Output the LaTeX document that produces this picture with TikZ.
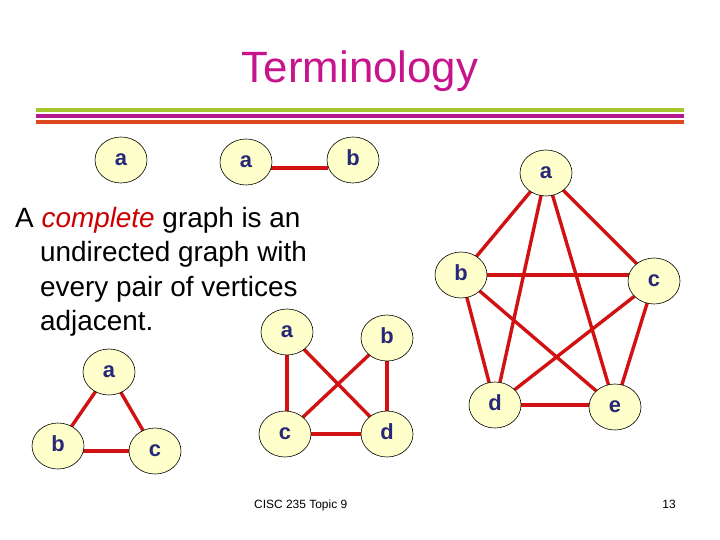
\documentclass[tikz,border=0pt]{standalone}
\usepackage{fontspec}
\setmainfont{Liberation Sans}
\usetikzlibrary{shapes.geometric,backgrounds}
\definecolor{titlemag}{RGB}{200,20,140}
\definecolor{barGreen}{RGB}{166,198,46}
\definecolor{barMag}{RGB}{180,24,140}
\definecolor{barRed}{RGB}{222,72,32}
\definecolor{edgered}{RGB}{210,18,18}
\definecolor{nodefill}{RGB}{255,255,204}
\definecolor{letterblue}{RGB}{40,40,120}
\definecolor{italred}{RGB}{204,0,0}
\tikzset{
  vert/.style={ellipse, draw=black, line width=0.6pt, fill=nodefill,
    minimum width=52bp, minimum height=46bp, inner sep=0pt,
    text=letterblue, font=\fontsize{22}{22}\selectfont\bfseries,
    text height=12pt, text depth=0pt},
  edge/.style={draw=edgered, line width=3.4bp, shorten <=-1.5pt, shorten >=-1.5pt},
  bar/.style={line width=4bp},
  body/.style={anchor=base west, inner sep=0pt, font=\fontsize{28}{33}\selectfont},
}
\begin{document}
\begin{tikzpicture}[x=1bp,y=-1bp]
\useasboundingbox (0,0) rectangle (720,540);
% title
\node[anchor=base, inner sep=0pt, text=titlemag, font=\fontsize{44}{44}\selectfont] (title) at (360,83) {Terminology};
\draw[bar, barGreen] (36,110.5) -- (684,110.5);
\draw[bar, barMag] (36,116.5) -- (684,116.5);
\draw[bar, barRed] (36,122.5) -- (684,122.5);
% body text
\node[body] (t1) at (15,228) {A \textcolor{italred}{\itshape complete} graph is an};
\node[body] (t2) at (40,262) {undirected graph with};
\node[body] (t3) at (40,296) {every pair of vertices};
\node[body] (t4) at (40,330) {adjacent.};
% single vertex
\node[vert] (s) at (121,160) {a};
% K2
\node[vert] (ka) at (246,162) {a};
\node[vert] (kb) at (353,160) {b};
% K3
\node[vert] (ta) at (109,372) {a};
\node[vert] (tb) at (58,446) {b};
\node[vert] (tc) at (155,451) {c};
% K4
\node[vert] (qa) at (287,332) {a};
\node[vert] (qb) at (387,338) {b};
\node[vert] (qc) at (285,434) {c};
\node[vert] (qd) at (387,434) {d};
% K5
\node[vert] (pa) at (546,173) {a};
\node[vert] (pb) at (461,275) {b};
\node[vert] (pc) at (654,281) {c};
\node[vert] (pd) at (495,405) {d};
\node[vert] (pe) at (615,407) {e};
\begin{scope}[on background layer]
\fill[white] (0,0) rectangle (720,540);
\draw[edge] ([yshift=-6bp]ka.east) -- ([yshift=-6bp]ka.east -| kb.west);
\draw[edge] (ta) -- (tb);
\draw[edge] (ta) -- (tc);
\draw[edge] (tc.west -| tb.east) -- (tc.west);
\draw[edge] (qa.south) -- (qc.north -| qa.south);
\draw[edge] (qb) -- (qd);
\draw[edge] (qc) -- (qd);
\draw[edge] (qa) -- (qd);
\draw[edge] (qb) -- (qc);
\draw[edge] (pa) -- (pb);
\draw[edge] (pa) -- (pc);
\draw[edge] (pa) -- (pd);
\draw[edge] (pa) -- (pe);
\draw[edge] (pb.east) -- (pb.east -| pc.west);
\draw[edge] (pb) -- (pd);
\draw[edge] (pb) -- (pe);
\draw[edge] (pc) -- (pd);
\draw[edge] (pc) -- (pe);
\draw[edge] (pd.east) -- (pd.east -| pe.west);
\end{scope}
% footer
\node[anchor=base west, inner sep=0pt, font=\fontsize{12}{12}\selectfont] (foot) at (254,508) {CISC 235 Topic 9};
\node[anchor=base, inner sep=0pt, font=\fontsize{12}{12}\selectfont] (num) at (669,508) {13};
\end{tikzpicture}
\end{document}
